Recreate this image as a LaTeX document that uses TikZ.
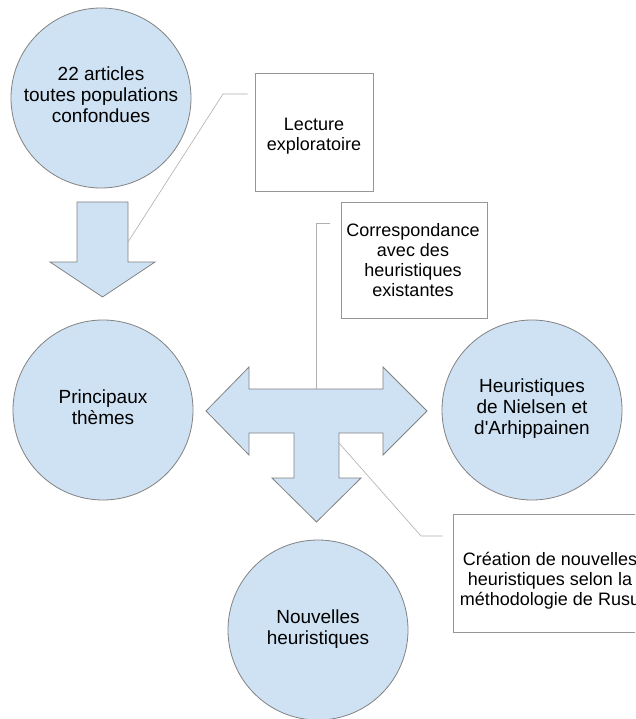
\documentclass[tikz,border=0pt]{standalone}
\usepackage{fontspec}
\setmainfont{Liberation Sans}
\definecolor{bubfill}{RGB}{207,226,243}
\definecolor{bubline}{RGB}{130,130,130}
\definecolor{boxline}{RGB}{150,150,150}
\definecolor{calline}{RGB}{175,175,175}
\begin{document}
\begin{tikzpicture}[x=1pt,y=-1pt,
  bub/.style={circle, draw=bubline, fill=bubfill, line width=0.8pt, minimum size=180pt, inner sep=0pt, align=center,
    font=\fontsize{19}{21}\selectfont, execute at begin node=\strut, execute at end node=\strut},
  boxframe/.style={rectangle, draw=boxline, fill=white, line width=0.8pt, inner sep=0pt},
  boxtext/.style={align=center, inner sep=0pt, font=\fontsize{18}{20}\selectfont,
    execute at begin node=\strut, execute at end node=\strut},
  arr/.style={draw=bubline, fill=bubfill, line width=0.8pt, line join=miter},
  callout/.style={draw=calline, line width=0.6pt}]
\useasboundingbox (0,0) rectangle (635,719);
\clip (0,0) rectangle (635,719);
\fill[white] (0,0) rectangle (635,719);

% circles
\node[bub] (art) at (101,98) {22 articles\\toutes populations\\confondues};
\node[bub] (the) at (103,410) {Principaux\\thèmes};
\node[bub] (niel) at (532,410) {Heuristiques\\de Nielsen et\\d\textquotesingle Arhippainen};
\node[bub] (nouv) at (318,630) {Nouvelles\\heuristiques};

% arrows
\draw[arr] (77,202) -- (128,202) -- (128,262) -- (155,262) -- (102.5,297) -- (50,262) -- (77,262) -- cycle;
\draw[arr] (206,411) -- (249,367) -- (249,389) -- (383,389) -- (383,367) -- (427,411) -- (383,455)
  -- (383,433) -- (339,433) -- (339,478) -- (361,478) -- (316.5,522) -- (272,478) -- (294,478)
  -- (294,433) -- (249,433) -- (249,455) -- cycle;

% boxes
\node[boxframe, minimum width=118pt, minimum height=118pt] (lecbox) at (314,132) {};
\node[boxtext] (lec) at (314,137) {Lecture\\exploratoire};
\node[boxframe, minimum width=146pt, minimum height=116pt] (corbox) at (414,260) {};
\node[boxtext] (cor) at (413,263) {Correspondance\\avec des\\heuristiques\\existantes};
\node[boxframe, minimum width=194pt, minimum height=118pt] (crebox) at (550,573) {};
\node[boxtext] (cre) at (550,582) {Création de nouvelles\\heuristiques selon la\\méthodologie de Rusu};

% callout connectors
\coordinate (a1) at (128,242);
\coordinate (k1) at (223,94);
\coordinate (e1) at ([xshift=-7pt]lecbox.west |- k1);
\draw[callout] (a1) -- (k1) -- (e1);
\coordinate (a2) at (316.5,389);
\coordinate (k2) at (316.5,223);
\coordinate (e2) at ([xshift=-11pt]corbox.west |- k2);
\draw[callout] (a2) -- (k2) -- (e2);
\coordinate (a3) at (339,443);
\coordinate (k3) at (421,536);
\coordinate (e3) at ([xshift=-10pt]crebox.west |- k3);
\draw[callout] (a3) -- (k3) -- (e3);
\end{tikzpicture}
\end{document}
